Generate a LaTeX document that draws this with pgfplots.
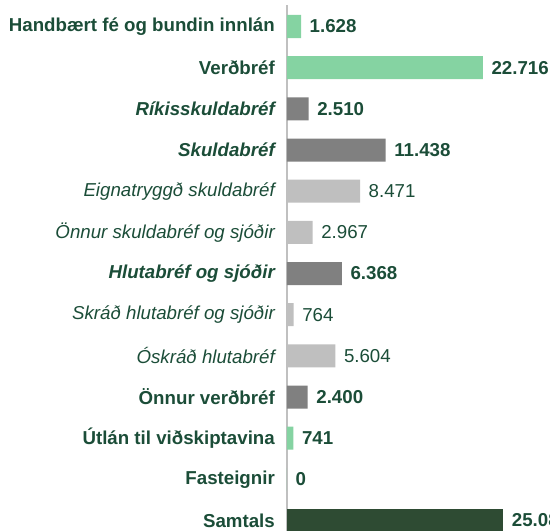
\documentclass[border=0pt]{standalone}
\usepackage{pgfplots}
\pgfplotsset{compat=1.18}
\usepackage{fontspec}
\setmainfont{Liberation Sans}
\definecolor{lgreen}{HTML}{85D3A2}
\definecolor{mgray}{HTML}{808080}
\definecolor{lgray}{HTML}{BFBFBF}
\definecolor{dgreen}{HTML}{2E4B33}
\definecolor{txt}{HTML}{1B4D38}
\definecolor{axl}{HTML}{C0C0C0}
\newcommand{\fs}{\fontsize{18.7bp}{22bp}\selectfont}
\begin{document}
\begin{tikzpicture}[font=\fs]
\begin{axis}[name=ax, scale only axis, width=263bp, height=531bp,
  xmin=0, xmax=30510, ymin=-0.6437, ymax=12.254, y dir=reverse,
  xbar, bar width=0.559, clip=false,
  axis line style={draw=none}, major tick length=0pt, xtick=\empty,
  ytick={0,...,12},
  yticklabels={
    {\bfseries Handbært fé og bundin innlán},
    {\bfseries Verðbréf},
    {\bfseries\itshape Ríkisskuldabréf},
    {\bfseries\itshape Skuldabréf},
    {\itshape Eignatryggð skuldabréf},
    {\itshape Önnur skuldabréf og sjóðir},
    {\bfseries\itshape Hlutabréf og sjóðir},
    {\itshape Skráð hlutabréf og sjóðir},
    {\itshape Óskráð hlutabréf},
    {\bfseries Önnur verðbréf},
    {\bfseries Útlán til viðskiptavina},
    {\bfseries Fasteignir},
    {\bfseries Samtals}},
  yticklabel style={anchor=east, inner sep=0pt, xshift=-12bp, text=txt, font=\fs},
  point meta=explicit symbolic,
  nodes near coords={\bfseries\pgfplotspointmeta},
  every node near coord/.append style={anchor=west, inner sep=0pt, xshift=8.5bp, text=txt, font=\fs},
]
\draw[axl, line width=1.5bp] (axis cs:0,-0.522) -- (axis cs:0,12.3);
\addplot[fill=lgreen, draw=none, bar shift=0pt] coordinates {
  (1628,0) [1.628] (22716,1) [22.716] (741,10) [741] (0,11) [0]};
\addplot[fill=mgray, draw=none, bar shift=0pt] coordinates {
  (2510,2) [2.510] (11438,3) [11.438] (6368,6) [6.368] (2400,9) [2.400]};
\addplot[fill=lgray, draw=none, bar shift=0pt, nodes near coords={\pgfplotspointmeta}] coordinates {
  (8471,4) [8.471] (2967,5) [2.967] (764,7) [764] (5604,8) [5.604]};
\addplot[fill=dgreen, draw=none, bar shift=0pt] coordinates {
  (25085,12) [25.085]};
\end{axis}
\pgfresetboundingbox
\path ([xshift=-287bp]ax.south west) rectangle (ax.north east);
\end{tikzpicture}
\end{document}
